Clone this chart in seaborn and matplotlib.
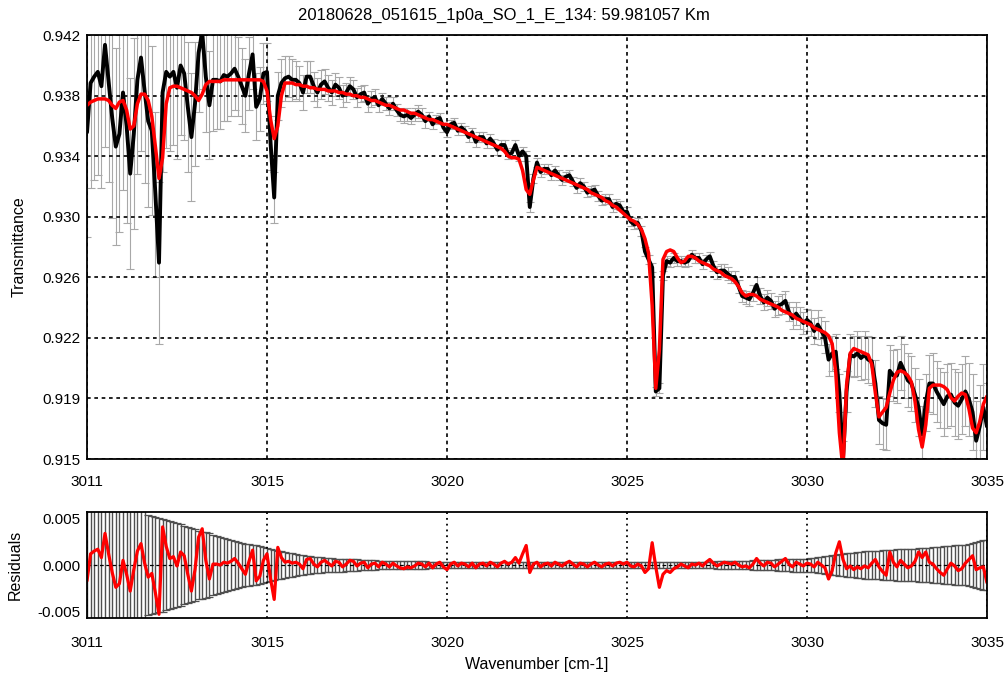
import numpy as np
import pandas as pd
import matplotlib
matplotlib.use("Agg")
import matplotlib.pyplot as plt
import seaborn as sns

title = "20180628_051615_1p0a_SO_1_E_134: 59.981057 Km"

# spectral grid, 0.1 cm-1 sampling
wavenumber = np.round(np.linspace(3010.0, 3035.0, 251), 1)

# best fit transmittance (red)
fit = [
    0.9371, 0.9373, 0.9374, 0.9375, 0.9375, 0.9375, 0.9374, 0.9371, 0.9369, 0.9373,
    0.9374, 0.9368, 0.9356, 0.9358, 0.9372, 0.9378, 0.9378, 0.9374, 0.9364, 0.9345,
    0.9325, 0.9338, 0.9372, 0.9382, 0.9383, 0.9383, 0.9382, 0.9381, 0.9380, 0.9379,
    0.9377, 0.9374, 0.9378, 0.9384, 0.9386, 0.9386, 0.9386, 0.9386, 0.9387, 0.9387,
    0.9387, 0.9387, 0.9387, 0.9387, 0.9387, 0.9387, 0.9387, 0.9387, 0.9387, 0.9386,
    0.9380, 0.9362, 0.9350, 0.9358, 0.9377, 0.9385, 0.9385, 0.9385, 0.9384, 0.9384,
    0.9383, 0.9383, 0.9382, 0.9382, 0.9381, 0.9381, 0.9381, 0.9380, 0.9380, 0.9380,
    0.9379, 0.9379, 0.9378, 0.9378, 0.9377, 0.9377, 0.9376, 0.9376, 0.9375, 0.9374,
    0.9374, 0.9373, 0.9372, 0.9371, 0.9371, 0.9370, 0.9369, 0.9368, 0.9368, 0.9367,
    0.9366, 0.9366, 0.9365, 0.9364, 0.9363, 0.9362, 0.9362, 0.9361, 0.9360, 0.9359,
    0.9359, 0.9358, 0.9357, 0.9356, 0.9355, 0.9354, 0.9353, 0.9352, 0.9351, 0.9350,
    0.9349, 0.9348, 0.9347, 0.9346, 0.9345, 0.9344, 0.9342, 0.9339, 0.9338, 0.9338,
    0.9337, 0.9330, 0.9318, 0.9315, 0.9324, 0.9332, 0.9331, 0.9330, 0.9329, 0.9328,
    0.9327, 0.9326, 0.9325, 0.9324, 0.9323, 0.9322, 0.9321, 0.9320, 0.9319, 0.9318,
    0.9316, 0.9315, 0.9314, 0.9313, 0.9311, 0.9310, 0.9308, 0.9307, 0.9305, 0.9303,
    0.9301, 0.9299, 0.9298, 0.9296, 0.9293, 0.9287, 0.9278, 0.9245, 0.9193, 0.9217,
    0.9274, 0.9279, 0.9280, 0.9279, 0.9275, 0.9272, 0.9273, 0.9276, 0.9276, 0.9275,
    0.9273, 0.9272, 0.9271, 0.9270, 0.9268, 0.9267, 0.9266, 0.9264, 0.9263, 0.9262,
    0.9260, 0.9257, 0.9253, 0.9251, 0.9252, 0.9252, 0.9251, 0.9249, 0.9248, 0.9247,
    0.9246, 0.9245, 0.9244, 0.9242, 0.9241, 0.9240, 0.9239, 0.9237, 0.9236, 0.9235,
    0.9234, 0.9233, 0.9231, 0.9230, 0.9229, 0.9228, 0.9226, 0.9221, 0.9203, 0.9165,
    0.9142, 0.9195, 0.9215, 0.9218, 0.9217, 0.9216, 0.9215, 0.9214, 0.9208, 0.9190,
    0.9175, 0.9178, 0.9181, 0.9190, 0.9198, 0.9203, 0.9204, 0.9203, 0.9201, 0.9197,
    0.9185, 0.9167, 0.9156, 0.9170, 0.9193, 0.9195, 0.9195, 0.9195, 0.9194, 0.9192,
    0.9187, 0.9185, 0.9188, 0.9190, 0.9189, 0.9180, 0.9168, 0.9165, 0.9172, 0.9183,
    0.9188,
]

# measured minus fit
residual = [
    -0.0017, 0.0012, 0.0015, 0.0017, 0.0008, 0.0034, 0.0012, -0.0008, -0.0024, -0.0020,
    0.0005, -0.0010, -0.0028, -0.0005, 0.0015, 0.0023, 0.0002, -0.0013, -0.0009, -0.0030,
    -0.0053, 0.0041, 0.0020, 0.0007, 0.0009, -0.0001, 0.0014, 0.0010, -0.0010, -0.0028,
    -0.0005, 0.0030, 0.0039, 0.0005, -0.0015, 0.0001, 0.0001, 0.0000, 0.0003, 0.0002,
    0.0004, 0.0007, 0.0002, -0.0004, -0.0010, 0.0004, 0.0016, -0.0017, -0.0012, 0.0005,
    0.0012, -0.0015, -0.0037, 0.0019, 0.0008, 0.0003, 0.0004, 0.0002, 0.0003, 0.0001,
    -0.0004, 0.0006, 0.0007, 0.0001, -0.0002, 0.0003, 0.0005, 0.0002, -0.0001, 0.0004,
    0.0003, -0.0002, 0.0001, 0.0005, 0.0004, -0.0001, 0.0002, 0.0003, -0.0003, 0.0001,
    0.0002, -0.0002, 0.0003, 0.0001, -0.0002, 0.0002, -0.0001, -0.0003, -0.0004, -0.0002,
    -0.0003, -0.0001, 0.0002, 0.0001, -0.0002, 0.0002, -0.0003, 0.0001, 0.0003, -0.0002,
    -0.0005, 0.0001, 0.0003, -0.0001, 0.0002, 0.0001, -0.0002, 0.0002, -0.0003, 0.0001,
    0.0002, -0.0001, 0.0003, 0.0001, -0.0002, 0.0002, 0.0004, 0.0001, 0.0003, 0.0008,
    0.0002, 0.0012, 0.0021, -0.0008, 0.0001, 0.0003, -0.0002, 0.0001, 0.0002, -0.0001,
    0.0003, 0.0001, -0.0001, 0.0002, 0.0004, 0.0001, -0.0002, 0.0002, 0.0001, -0.0002,
    0.0001, 0.0003, 0.0000, -0.0002, 0.0001, 0.0002, -0.0001, 0.0002, 0.0003, 0.0001,
    0.0003, -0.0001, -0.0002, 0.0001, -0.0001, -0.0008, -0.0004, 0.0024, -0.0002, -0.0024,
    -0.0010, -0.0006, -0.0008, -0.0004, -0.0002, 0.0001, -0.0001, -0.0003, 0.0001, 0.0000,
    0.0002, -0.0001, 0.0003, 0.0006, 0.0002, -0.0001, 0.0001, 0.0003, 0.0002, 0.0001,
    0.0003, 0.0000, -0.0002, -0.0001, -0.0003, 0.0001, 0.0007, 0.0002, -0.0001, 0.0003,
    0.0002, -0.0002, 0.0001, 0.0004, 0.0007, 0.0001, -0.0002, 0.0003, 0.0001, -0.0001,
    0.0002, 0.0001, -0.0002, 0.0003, 0.0000, -0.0003, -0.0015, -0.0006, 0.0013, 0.0025,
    0.0006, -0.0004, -0.0001, -0.0005, -0.0002, -0.0004, -0.0001, -0.0003, 0.0002, 0.0006,
    -0.0002, -0.0007, -0.0011, 0.0014, 0.0003, -0.0002, 0.0005, 0.0001, -0.0003, -0.0001,
    0.0004, 0.0014, 0.0008, 0.0014, 0.0003, 0.0001, -0.0004, -0.0008, -0.0011, -0.0004,
    0.0002, -0.0001, -0.0006, -0.0004, 0.0002, 0.0006, 0.0010, -0.0005, -0.0003, -0.0002,
    -0.0019,
]

# 1-sigma uncertainty of the measurement
sigma = [
    0.0066, 0.0066, 0.0065, 0.0065, 0.0064, 0.0064, 0.0063, 0.0063, 0.0062, 0.0062,
    0.0061, 0.0061, 0.0060, 0.0060, 0.0059, 0.0059, 0.0058, 0.0054, 0.0053, 0.0052,
    0.0051, 0.0050, 0.0048, 0.0047, 0.0046, 0.0045, 0.0044, 0.0042, 0.0041, 0.0040,
    0.0039, 0.0037, 0.0036, 0.0035, 0.0034, 0.0032, 0.0031, 0.0030, 0.0029, 0.0028,
    0.0027, 0.0026, 0.0025, 0.0024, 0.0023, 0.0023, 0.0022, 0.0021, 0.0020, 0.0019,
    0.0018, 0.0017, 0.0016, 0.0015, 0.0015, 0.0014, 0.0013, 0.0013, 0.0012, 0.0011,
    0.0011, 0.0010, 0.0010, 0.0009, 0.0009, 0.0009, 0.0008, 0.0008, 0.0008, 0.0007,
    0.0007, 0.0007, 0.0006, 0.0006, 0.0006, 0.0006, 0.0005, 0.0005, 0.0005, 0.0005,
    0.0005, 0.0004, 0.0004, 0.0004, 0.0004, 0.0004, 0.0004, 0.0004, 0.0004, 0.0004,
    0.0004, 0.0004, 0.0004, 0.0004, 0.0004, 0.0003, 0.0003, 0.0003, 0.0003, 0.0003,
    0.0003, 0.0003, 0.0003, 0.0003, 0.0003, 0.0003, 0.0003, 0.0003, 0.0003, 0.0003,
    0.0003, 0.0003, 0.0003, 0.0003, 0.0003, 0.0003, 0.0003, 0.0003, 0.0003, 0.0003,
    0.0003, 0.0003, 0.0003, 0.0003, 0.0003, 0.0003, 0.0003, 0.0003, 0.0003, 0.0003,
    0.0003, 0.0003, 0.0003, 0.0003, 0.0003, 0.0003, 0.0003, 0.0003, 0.0003, 0.0003,
    0.0003, 0.0003, 0.0003, 0.0003, 0.0003, 0.0003, 0.0003, 0.0003, 0.0003, 0.0003,
    0.0003, 0.0003, 0.0003, 0.0003, 0.0003, 0.0003, 0.0003, 0.0003, 0.0003, 0.0003,
    0.0003, 0.0003, 0.0003, 0.0003, 0.0003, 0.0003, 0.0003, 0.0003, 0.0003, 0.0003,
    0.0003, 0.0003, 0.0003, 0.0003, 0.0003, 0.0004, 0.0004, 0.0004, 0.0004, 0.0004,
    0.0004, 0.0004, 0.0004, 0.0004, 0.0004, 0.0005, 0.0005, 0.0005, 0.0005, 0.0005,
    0.0005, 0.0005, 0.0006, 0.0006, 0.0006, 0.0006, 0.0007, 0.0007, 0.0007, 0.0007,
    0.0007, 0.0008, 0.0008, 0.0009, 0.0009, 0.0010, 0.0010, 0.0011, 0.0011, 0.0012,
    0.0012, 0.0013, 0.0013, 0.0013, 0.0014, 0.0014, 0.0015, 0.0015, 0.0015, 0.0015,
    0.0015, 0.0016, 0.0016, 0.0016, 0.0016, 0.0017, 0.0017, 0.0017, 0.0017, 0.0017,
    0.0017, 0.0018, 0.0018, 0.0018, 0.0018, 0.0019, 0.0019, 0.0019, 0.0020, 0.0020,
    0.0020, 0.0021, 0.0021, 0.0022, 0.0022, 0.0023, 0.0024, 0.0025, 0.0026, 0.0027,
    0.0027,
]

x_ticks = [3010, 3015, 3020, 3025, 3030, 3035]
x_labels = ["3011", "3015", "3020", "3025", "3030", "3035"]
t_lim = (0.91485, 0.94152)
t_labels = ["0.915", "0.919", "0.922", "0.926", "0.930", "0.934", "0.938", "0.942"]
r_lim = (-0.0057, 0.0057)
r_ticks = [-0.005, 0.0, 0.005]
r_labels = ["-0.005", "0.000", "0.005"]


def main():
    sns.set_theme(style="white")
    plt.rcParams["font.family"] = ["Liberation Sans", "DejaVu Sans"]
    plt.rcParams["text.color"] = "black"
    plt.rcParams["axes.labelcolor"] = "black"

    df = pd.DataFrame({"wavenumber": wavenumber, "fit": fit,
                       "residual": residual, "sigma": sigma})
    df["data"] = df["fit"] + df["residual"]

    fig = plt.figure(figsize=(10.07, 6.77), dpi=100)
    ax1 = fig.add_axes([0.0864, 0.3220, 0.8937, 0.6263])
    ax2 = fig.add_axes([0.0864, 0.0871, 0.8937, 0.1566])

    grid_kw = dict(color="black", linewidth=1.2, linestyle=(0, (2.2, 2.2)))

    # transmittance panel
    ax1.errorbar(df["wavenumber"], df["data"], yerr=df["sigma"], fmt="none",
                 ecolor="#a8a8a8", elinewidth=0.8, capsize=3, capthick=0.8, zorder=2)
    sns.lineplot(data=df, x="wavenumber", y="data", color="black", lw=2.8,
                 ax=ax1, zorder=3)
    sns.lineplot(data=df, x="wavenumber", y="fit", color="red", lw=2.5,
                 ax=ax1, zorder=4)
    ax1.set_xlim(x_ticks[0], x_ticks[-1])
    ax1.set_ylim(*t_lim)
    ax1.set_xticks(x_ticks)
    ax1.set_xticklabels(x_labels)
    ax1.set_yticks(np.linspace(t_lim[0], t_lim[1], len(t_labels)))
    ax1.set_yticklabels(t_labels)
    ax1.grid(True, **grid_kw)
    ax1.set_xlabel("")
    ax1.set_ylabel("Transmittance", fontsize=11.5)
    ax1.yaxis.set_label_coords(-0.067, 0.5)

    # residual panel
    ax2.errorbar(df["wavenumber"], np.zeros(len(df)), yerr=df["sigma"], fmt="none",
                 ecolor="#505050", elinewidth=1.0, capsize=3, capthick=0.9, zorder=2)
    sns.lineplot(data=df, x="wavenumber", y="residual", color="red", lw=2.3,
                 ax=ax2, zorder=4)
    ax2.axhline(0, color="black", linewidth=0.9, linestyle=(0, (3, 2)), zorder=3)
    ax2.set_xlim(x_ticks[0], x_ticks[-1])
    ax2.set_ylim(*r_lim)
    ax2.set_xticks(x_ticks)
    ax2.set_xticklabels(x_labels)
    ax2.set_yticks(r_ticks)
    ax2.set_yticklabels(r_labels)
    ax2.grid(True, axis="x", color="black", linewidth=1.3, linestyle=(0, (1, 2.2)))
    ax2.set_xlabel("Wavenumber [cm-1]", fontsize=11.5, labelpad=5)
    ax2.set_ylabel("Residuals", fontsize=11.5)
    ax2.yaxis.set_label_coords(-0.071, 0.5)

    for ax in (ax1, ax2):
        ax.set_axisbelow(False)
        ax.tick_params(length=0, labelsize=11, colors="black")
        ax.tick_params(axis="y", pad=5)
        for s in ax.spines.values():
            s.set_color("black")
            s.set_linewidth(1.3)
            s.set_zorder(6)
    ax1.tick_params(axis="x", pad=11.5)
    ax2.tick_params(axis="x", pad=13)

    fig.text(0.5, 1 - 15 / 677, title, ha="center", va="center", fontsize=12,
             color="black")

    fig.savefig("out.png", dpi=100)


if __name__ == "__main__":
    main()
